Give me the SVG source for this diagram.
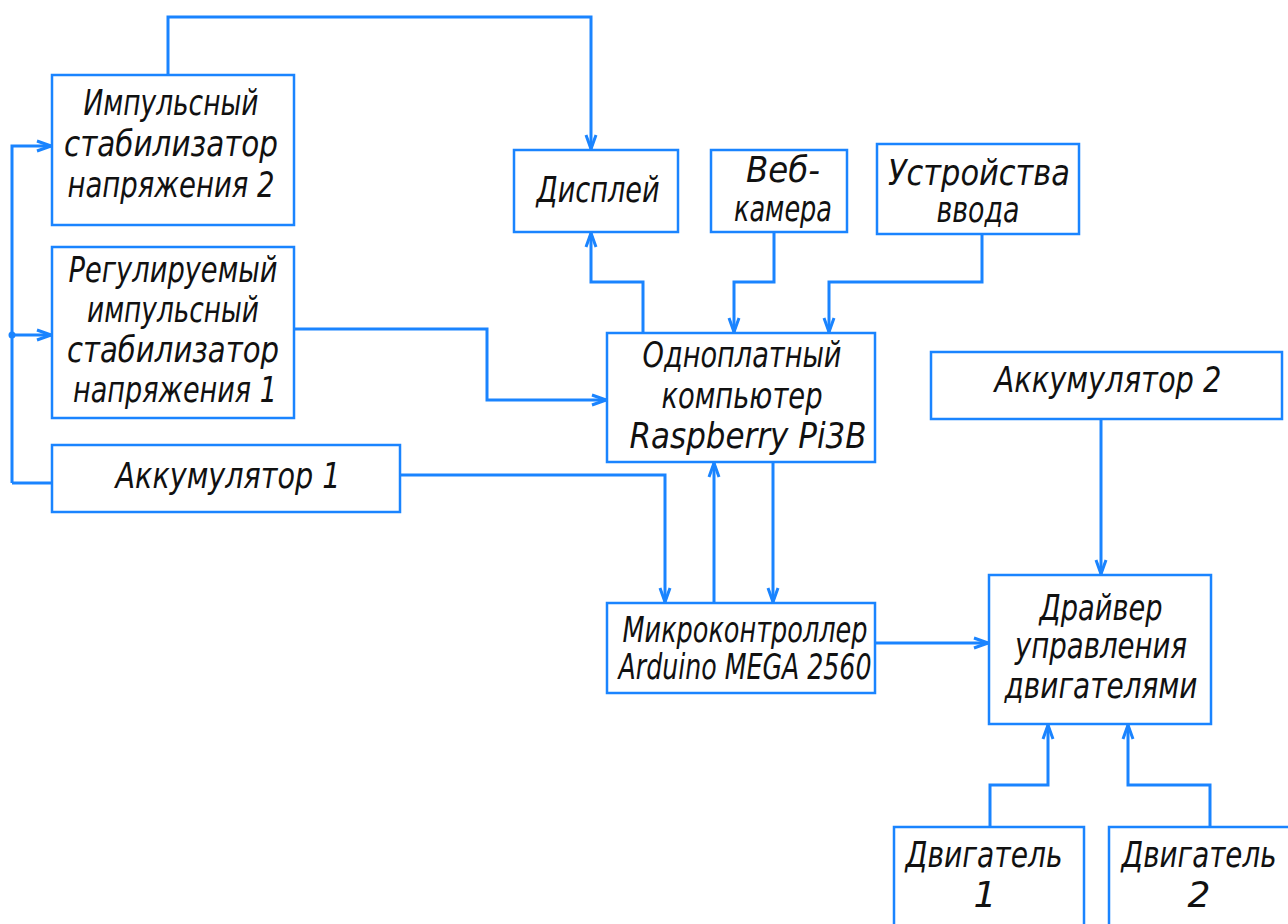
<svg xmlns="http://www.w3.org/2000/svg" width="1288" height="924" viewBox="0 0 1288 924">
<style>
.box{fill:#fff;stroke:#1a84ff;stroke-width:2.5}
.ln{fill:none;stroke:#1a84ff;stroke-width:3}
text{font-family:"DejaVu Sans","DejaVu Sans Condensed",sans-serif;font-weight:200;font-style:italic;font-size:36px;fill:#111;text-anchor:middle}
</style>
<defs>
<marker id="ah" markerUnits="userSpaceOnUse" markerWidth="20" markerHeight="14" refX="16" refY="7" orient="auto">
<path d="M2,2 L16,7 L2,12" fill="none" stroke="#1a84ff" stroke-width="3"/>
</marker>
</defs>
<rect width="1288" height="924" fill="#fff"/>
<g id="connectors">
<path class="ln" d="M168,75 V17 H591 V149" marker-end="url(#ah)"/>
<path class="ln" d="M12,483 V146 H51" marker-end="url(#ah)"/>
<path class="ln" d="M12,335 H51" marker-end="url(#ah)"/>
<path class="ln" d="M52,483 H12"/>
<circle cx="12" cy="335" r="3.5" fill="#1a84ff"/>
<path class="ln" d="M294,329 H487 V400 H606" marker-end="url(#ah)"/>
<path class="ln" d="M643,333 V282 H591 V233" marker-end="url(#ah)"/>
<path class="ln" d="M774,232 V282 H734 V332" marker-end="url(#ah)"/>
<path class="ln" d="M982,235 V282 H829 V332" marker-end="url(#ah)"/>
<path class="ln" d="M400,475 H665 V602" marker-end="url(#ah)"/>
<path class="ln" d="M714,603 V463" marker-end="url(#ah)"/>
<path class="ln" d="M773,462 V602" marker-end="url(#ah)"/>
<path class="ln" d="M875,643 H988" marker-end="url(#ah)"/>
<path class="ln" d="M1101,419 V574" marker-end="url(#ah)"/>
<path class="ln" d="M990,827 V785 H1048 V725" marker-end="url(#ah)"/>
<path class="ln" d="M1210,827 V785 H1128 V725" marker-end="url(#ah)"/>
</g>
<g id="stab2"><rect class="box" x="52" y="75" width="242" height="150"/>
<text x="171" y="115" textLength="175" lengthAdjust="spacingAndGlyphs">Импульсный</text>
<text x="171" y="156" textLength="214" lengthAdjust="spacingAndGlyphs">стабилизатор</text>
<text x="171" y="197" textLength="207" lengthAdjust="spacingAndGlyphs">напряжения 2</text></g>
<g id="stab1"><rect class="box" x="52" y="247" width="242" height="171"/>
<text x="173" y="282" textLength="209" lengthAdjust="spacingAndGlyphs">Регулируемый</text>
<text x="173" y="322" textLength="172" lengthAdjust="spacingAndGlyphs">импульсный</text>
<text x="173" y="362" textLength="212" lengthAdjust="spacingAndGlyphs">стабилизатор</text>
<text x="175" y="402" textLength="204" lengthAdjust="spacingAndGlyphs">напряжения 1</text></g>
<g id="akk1"><rect class="box" x="52" y="445" width="348" height="67"/>
<text x="228" y="488" textLength="225" lengthAdjust="spacingAndGlyphs">Аккумулятор 1</text></g>
<g id="display"><rect class="box" x="514" y="150" width="164" height="82"/>
<text x="598" y="202" textLength="123" lengthAdjust="spacingAndGlyphs">Дисплей</text></g>
<g id="webcam"><rect class="box" x="711" y="150" width="136" height="82"/>
<text x="783" y="182" textLength="74" lengthAdjust="spacingAndGlyphs">Веб-</text>
<text x="783" y="221" textLength="98" lengthAdjust="spacingAndGlyphs">камера</text></g>
<g id="input"><rect class="box" x="877" y="144" width="202" height="90"/>
<text x="979" y="185" textLength="182" lengthAdjust="spacingAndGlyphs">Устройства</text>
<text x="978" y="222" textLength="83" lengthAdjust="spacingAndGlyphs">ввода</text></g>
<g id="rpi"><rect class="box" x="607" y="333" width="268" height="129"/>
<text x="742" y="367" textLength="199" lengthAdjust="spacingAndGlyphs">Одноплатный</text>
<text x="742" y="408" textLength="161" lengthAdjust="spacingAndGlyphs">компьютер</text>
<text x="748" y="448" textLength="237" lengthAdjust="spacingAndGlyphs">Raspberry Pi3B</text></g>
<g id="mcu"><rect class="box" x="607" y="603" width="268" height="90"/>
<text x="745" y="642" textLength="245" lengthAdjust="spacingAndGlyphs">Микроконтроллер</text>
<text x="745" y="679" textLength="253" lengthAdjust="spacingAndGlyphs">Arduino MEGA 2560</text></g>
<g id="akk2"><rect class="box" x="931" y="352" width="351" height="67"/>
<text x="1108" y="392" textLength="227" lengthAdjust="spacingAndGlyphs">Аккумулятор 2</text></g>
<g id="driver"><rect class="box" x="989" y="575" width="222" height="149"/>
<text x="1101" y="620" textLength="123" lengthAdjust="spacingAndGlyphs">Драйвер</text>
<text x="1101" y="658" textLength="172" lengthAdjust="spacingAndGlyphs">управления</text>
<text x="1101" y="698" textLength="193" lengthAdjust="spacingAndGlyphs">двигателями</text></g>
<g id="motor1"><rect class="box" x="894" y="827" width="190" height="110"/>
<text x="984" y="867" textLength="157" lengthAdjust="spacingAndGlyphs">Двигатель</text>
<text x="985" y="907" font-size="34">1</text></g>
<g id="motor2"><rect class="box" x="1109" y="827" width="190" height="110"/>
<text x="1199" y="867" textLength="155" lengthAdjust="spacingAndGlyphs">Двигатель</text>
<text x="1199" y="907" font-size="34">2</text></g>
</svg>
